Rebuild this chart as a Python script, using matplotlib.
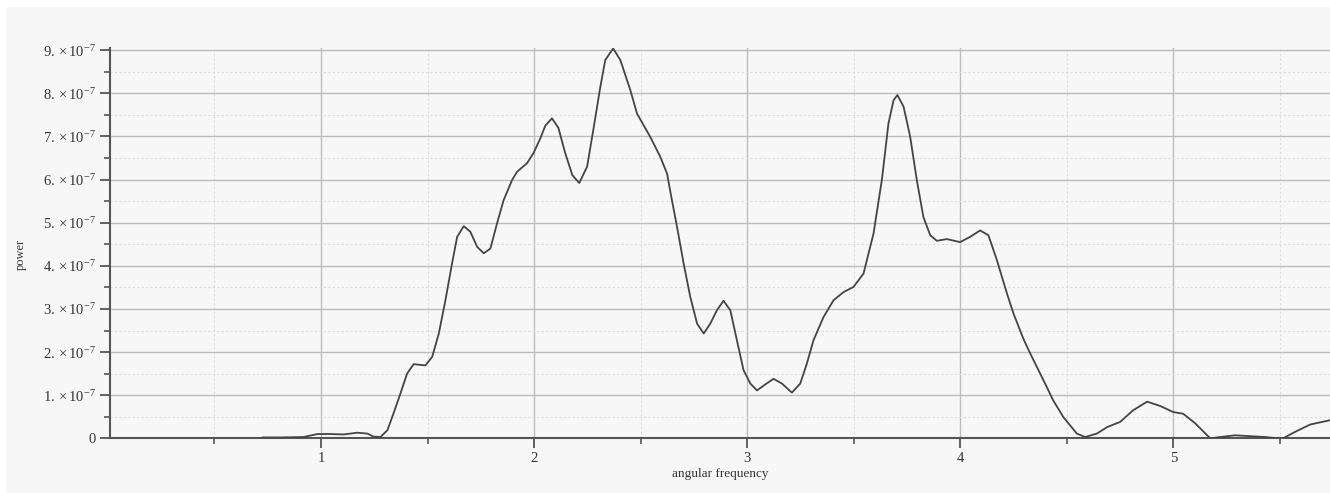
import numpy as np
import matplotlib
matplotlib.use("Agg")
import matplotlib.pyplot as plt
from matplotlib.ticker import MultipleLocator, FuncFormatter
from matplotlib.patches import Rectangle

plt.rcParams["font.family"] = ["Liberation Serif", "DejaVu Serif"]
plt.rcParams["mathtext.fontset"] = "custom"
plt.rcParams["mathtext.rm"] = "Liberation Serif"
plt.rcParams["mathtext.it"] = "Liberation Serif:italic"

# datos (potencia en unidades de 1e-7)
freq = [0.726, 0.810, 0.918, 0.984, 1.045, 1.106, 1.171, 1.218, 1.246, 1.279,
        1.312, 1.340, 1.373, 1.404, 1.435, 1.490, 1.522, 1.553, 1.584, 1.615,
        1.639, 1.670, 1.701, 1.733, 1.764, 1.795, 1.826, 1.857, 1.897, 1.920,
        1.967, 1.997, 2.029, 2.053, 2.084, 2.114, 2.147, 2.180, 2.212, 2.249,
        2.278, 2.311, 2.334, 2.371, 2.405, 2.452, 2.483, 2.545, 2.592, 2.624,
        2.644, 2.671, 2.702, 2.733, 2.765, 2.796, 2.827, 2.858, 2.889, 2.921,
        2.952, 2.983, 3.015, 3.046, 3.085, 3.124, 3.163, 3.210, 3.249, 3.280,
        3.311, 3.358, 3.405, 3.452, 3.499, 3.546, 3.593, 3.632, 3.663, 3.687,
        3.705, 3.734, 3.765, 3.796, 3.827, 3.859, 3.890, 3.937, 3.999, 4.046,
        4.093, 4.132, 4.172, 4.219, 4.250, 4.296, 4.328, 4.406, 4.436, 4.484,
        4.547, 4.586, 4.641, 4.689, 4.750, 4.811, 4.877, 4.938, 4.999, 5.046,
        5.102, 5.173, 5.220, 5.290, 5.361, 5.431, 5.492, 5.515, 5.571, 5.642,
        5.735]
power = [0.02, 0.02, 0.03, 0.10, 0.10, 0.09, 0.13, 0.11, 0.04, 0.03,
         0.19, 0.57, 1.04, 1.50, 1.72, 1.69, 1.89, 2.43, 3.20, 4.05,
         4.67, 4.92, 4.79, 4.44, 4.29, 4.40, 4.98, 5.52, 5.99, 6.18,
         6.38, 6.61, 6.95, 7.25, 7.42, 7.20, 6.60, 6.10, 5.92, 6.30,
         7.15, 8.15, 8.77, 9.04, 8.77, 8.07, 7.53, 6.99, 6.53, 6.14,
         5.60, 4.90, 4.05, 3.28, 2.66, 2.43, 2.66, 2.97, 3.19, 2.97,
         2.27, 1.58, 1.27, 1.11, 1.25, 1.38, 1.27, 1.06, 1.27, 1.73,
         2.27, 2.81, 3.20, 3.39, 3.51, 3.82, 4.75, 5.99, 7.30, 7.84,
         7.96, 7.69, 6.99, 5.99, 5.13, 4.71, 4.58, 4.62, 4.55, 4.67,
         4.82, 4.71, 4.13, 3.36, 2.89, 2.31, 1.97, 1.19, 0.88, 0.49,
         0.11, 0.03, 0.11, 0.26, 0.38, 0.65, 0.85, 0.75, 0.61, 0.57,
         0.35, 0.00, 0.03, 0.07, 0.05, 0.03, 0.00, 0.00, 0.15, 0.32,
         0.42]

x = np.array(freq)
y = np.array(power) * 1e-7

bg = "#f7f7f7"
fig = plt.figure(figsize=(13.3, 4.93), dpi=100, facecolor=bg)
# franja blanca arriba y a la izquierda
fig.patches.append(Rectangle((0, 0.988), 1, 0.02, transform=fig.transFigure, color="white", zorder=-1))
fig.patches.append(Rectangle((0, 0), 0.004, 1, transform=fig.transFigure, color="white", zorder=-1))

ax = fig.add_axes([0.0827, 0.1109, 0.9173, 0.7917])
ax.set_facecolor(bg)
ax.plot(x, y, color="#444444", lw=1.3, zorder=3, solid_joinstyle="round")

ax.set_xlim(0.01, 5.735)
ax.set_ylim(0, 9.05e-7)

ax.xaxis.set_major_locator(MultipleLocator(1))
ax.xaxis.set_minor_locator(MultipleLocator(0.5))
ax.yaxis.set_major_locator(MultipleLocator(1e-7))
ax.yaxis.set_minor_locator(MultipleLocator(0.5e-7))

def fmt_y(v, pos):
    n = int(round(v / 1e-7))
    if n == 0:
        return "0"
    return r"$\mathrm{%d.}\times\mathrm{10}^{\mathrm{-7}}$" % n

ax.yaxis.set_major_formatter(FuncFormatter(fmt_y))
ax.xaxis.set_major_formatter(FuncFormatter(lambda v, p: "%d" % v if v >= 1 else ""))

ax.grid(which="major", color="#bdbdbd", lw=1.0, ls="-")
ax.grid(which="minor", color="#dddddd", lw=0.8, ls=(0, (2, 2)))
ax.set_axisbelow(True)

for s in ["top", "right"]:
    ax.spines[s].set_visible(False)
for s in ["left", "bottom"]:
    ax.spines[s].set_color("#555555")
    ax.spines[s].set_linewidth(1.5)

ax.tick_params(which="major", length=7, width=1.3, color="#555555", labelsize=10.5, pad=3,
               labelcolor="#333333")
ax.tick_params(which="minor", length=4, width=1.2, color="#555555")

ax.set_xlabel("angular frequency", fontsize=9.5, color="#333333", labelpad=2)
ax.set_ylabel("power", fontsize=9, color="#333333", labelpad=10)
ax.yaxis.set_label_coords(-0.0685, 0.47)

fig.savefig("out.png", dpi=100, facecolor=bg)
